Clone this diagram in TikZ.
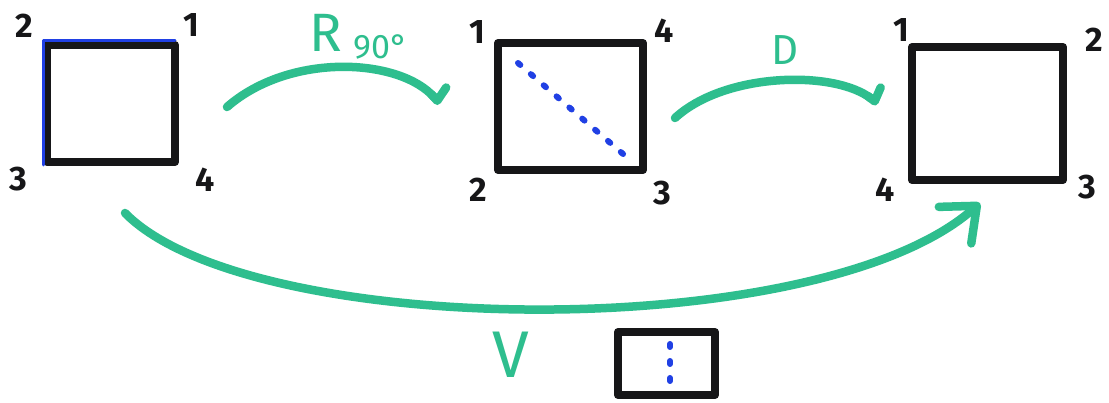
\documentclass[tikz,border=0pt]{standalone}
\usepackage{fontspec}
\setmainfont{Fira Sans}
\usetikzlibrary{arrows.meta}
\definecolor{inkblack}{RGB}{22,22,24}
\definecolor{inkgreen}{RGB}{46,190,142}
\definecolor{inkblue}{RGB}{32,64,228}
\tikzset{
  sq/.style={draw=inkblack, line width=8pt, inner sep=0pt, outer sep=0pt, line join=round},
  corner/.style={text=inkblack, font=\fontsize{34}{34}\selectfont\bfseries, inner sep=0pt},
  glabel/.style={text=inkgreen, inner sep=0pt},
  garrow/.style={draw=inkgreen, line width=8.5pt, line cap=round},
  dots/.style={draw=inkblue, line width=6pt, line cap=round, dash pattern=on 3pt off 14pt},
  blueedge/.style={draw=inkblue, line width=3pt, line cap=round}
}
\begin{document}
\begin{tikzpicture}[x=1pt,y=-1pt]
\useasboundingbox[fill=white] (0,0) rectangle (1109,403);

% squares
\node[sq, minimum width=128pt, minimum height=117pt] (sqA) at (111,103.5) {};
\node[sq, minimum width=145pt, minimum height=127pt] (sqB) at (570.5,106.5) {};
\node[sq, minimum width=151pt, minimum height=133pt] (sqC) at (987.5,113.5) {};
\node[sq, minimum width=97pt, minimum height=63pt] (sqD) at (666.5,363.5) {};

% blue edges of first square
\draw[blueedge] ([shift={(-3.5,-4)}]sqA.north west) -- ([shift={(0,-4)}]sqA.north east);
\draw[blueedge] ([shift={(-3.5,-4)}]sqA.north west) -- ([shift={(-3.5,3)}]sqA.south west);

% dotted lines
\coordinate (dA) at (518,63);
\coordinate (dB) at (630,160);
\draw[dots] (dA) -- (dB);
\coordinate (dC) at (670,344);
\coordinate (dD) at (670,386);
\draw[dots] (dC) -- (dD);

% corner labels
\node[corner] (a2) at (24,26) {2};
\node[corner] (a1) at (191,25) {1};
\node[corner] (a3) at (18,179) {3};
\node[corner] (a4) at (205,180) {4};

\node[corner] (b1) at (477,32) {1};
\node[corner] (b4) at (664,31) {4};
\node[corner] (b2) at (478,190) {2};
\node[corner] (b3) at (662,193) {3};

\node[corner] (c1) at (901,30) {1};
\node[corner] (c2) at (1094,40) {2};
\node[corner] (c4) at (885,190) {4};
\node[corner] (c3) at (1087,187) {3};

% green arrows
\coordinate (rS) at (227,107);
\coordinate (rE) at (440,104);
\draw[garrow, -{Straight Barb[left, round, angle=150:16pt]}]
  (rS) .. controls (290,52) and (400,58) .. (rE);
\coordinate (dS) at (675,118);
\coordinate (dE) at (878,104);
\draw[garrow, -{Straight Barb[left, round, angle=150:15pt]}]
  (dS) .. controls (725,72) and (835,70) .. (dE);
\coordinate (vS) at (125,213);
\coordinate (vE) at (980,203);
\draw[garrow, -{Straight Barb[round, angle=80:38pt]}]
  (vS) .. controls (250,340) and (820,345) .. (vE);

% green labels
\node[glabel, font=\fontsize{54}{54}\selectfont] (lR) at (326,33) {R};
\node[glabel, font=\fontsize{34}{34}\selectfont] (l90) at (381,47) {90°};
\node[glabel, font=\fontsize{42}{42}\selectfont] (lD) at (785,50) {D};
\node[glabel, font=\fontsize{66}{66}\selectfont] (lV) at (511,355) {V};
\end{tikzpicture}
\end{document}
